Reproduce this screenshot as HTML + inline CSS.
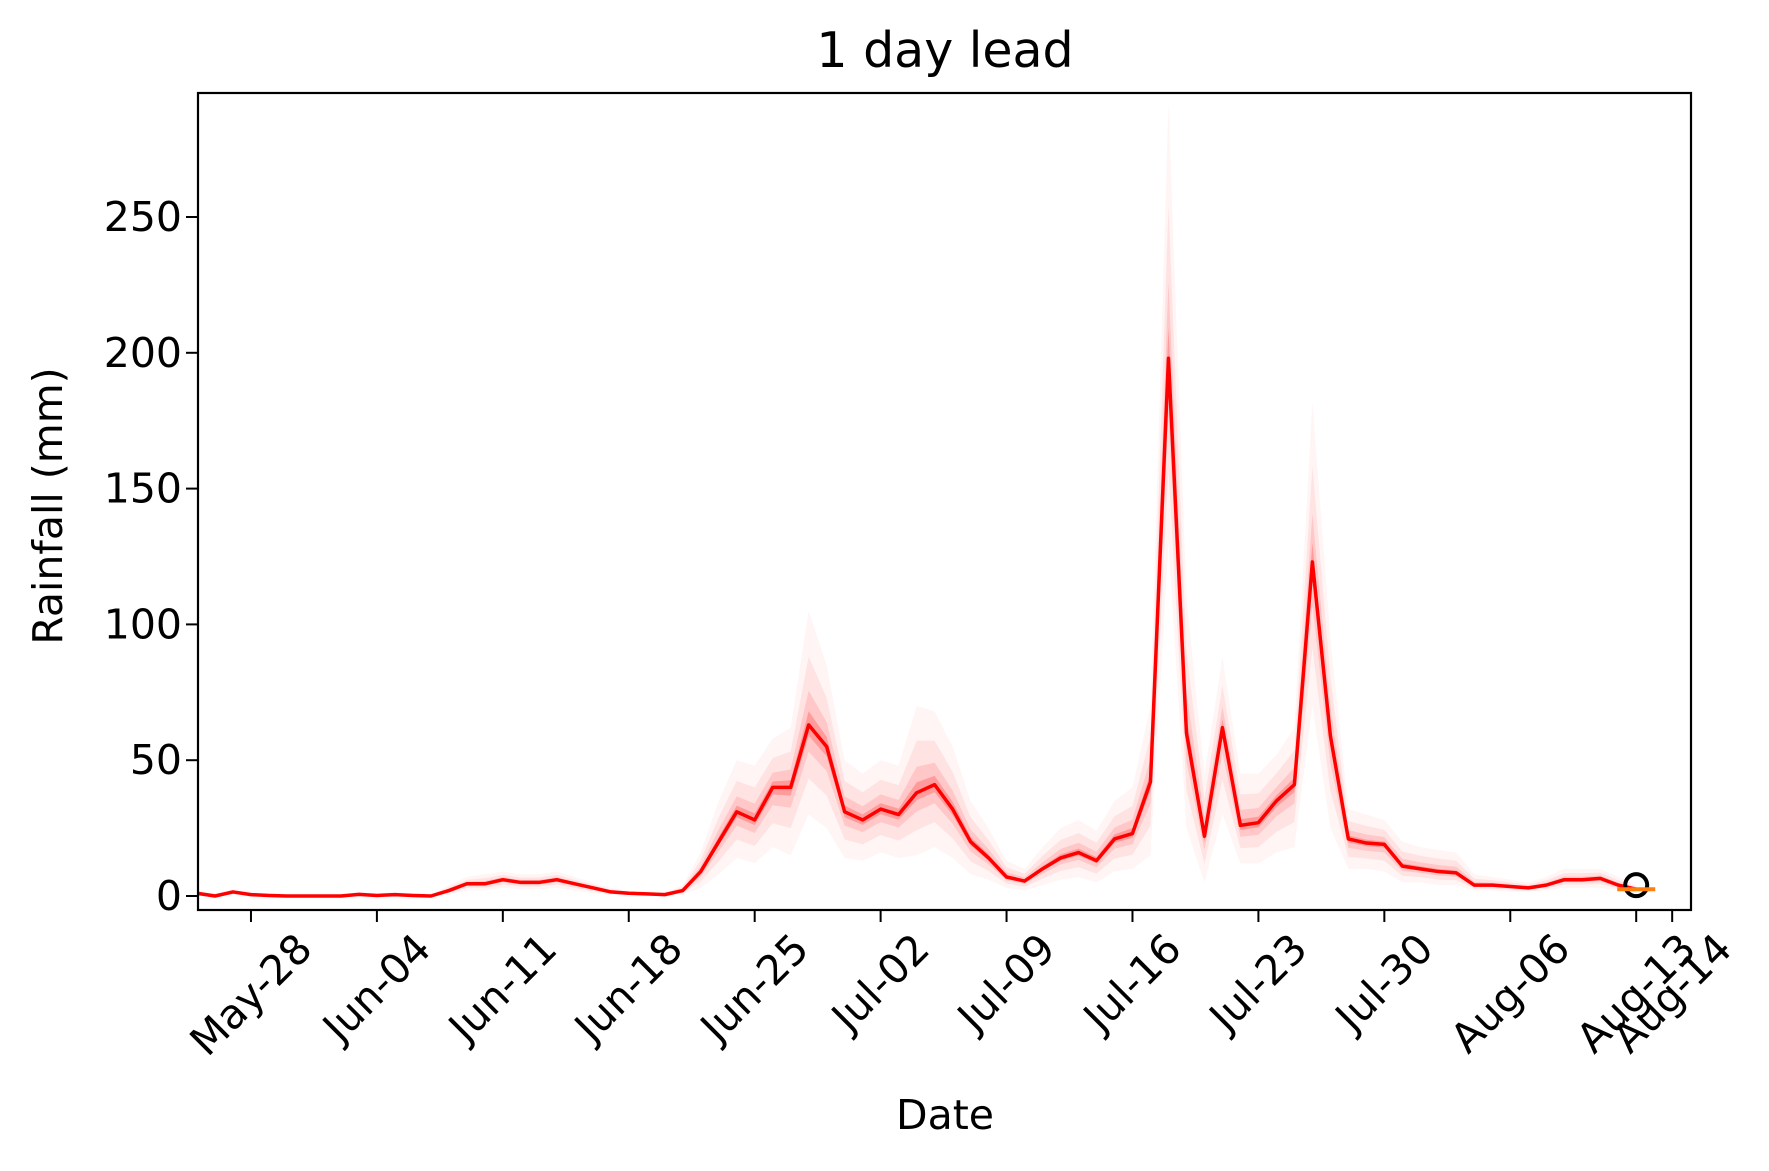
<!DOCTYPE html>
<html><head><meta charset="utf-8">
<style>
html,body{margin:0;padding:0;background:#fff;}
svg text{font-family:"DejaVu Sans","Liberation Sans",sans-serif;fill:#000;}
</style></head>
<body>
<svg id="chart" width="1769" height="1166" viewBox="0 0 1769 1166" xmlns="http://www.w3.org/2000/svg">
<rect width="1769" height="1166" fill="#fff"/>
<text x="945" y="67" font-size="49" text-anchor="middle">1 day lead</text>
<g id="plot"></g>
<text x="945" y="1129" font-size="41" text-anchor="middle">Date</text>
<text x="0" y="0" font-size="41" text-anchor="middle" transform="translate(62,506) rotate(-90)">Rainfall (mm)</text>
</svg>
<script>
// Daily values starting May-25
const meanValues = [1,0,1.5,0.5,0.2,0,0,
0,0,0.6,0.2,0.5,0.2,0,2,4.5,4.5,6,5,5,6,4.5,3,1.5,1,0.8,0.5,2,9,20,31,28,40,40,63,55,31,
28,32,30,38,41,32,20,14,7,5.5,10,14,16,13,21,23,42,198,60,22,62,26,27,35,41,123,59,21,19.5,19,11,
10,9,8.5,4,4,3.5,3,4,6,6,6.5,4,2.5];
const upperValues = [2,1,2.5,1.5,1,0.5,0.5,
0.5,0.5,1.5,1,1.5,1,0.5,4,7,8,9,8,8,9,7,5,3,2,1.5,1.5,4,16,35,50,48,58,62,105,85,50,
45,50,48,70,68,55,35,25,13,10,18,25,28,24,35,40,70,292,110,45,88,45,45,52,62,182,95,32,30,28,20,
18,17,16,8,7,6,5,7,10,10,10,7,4];
const lowerValues = [0,0,0.5,0,0,0,0,
0,0,0,0,0,0,0,0.5,2,2,3,2.5,2.5,3,2,1,0.5,0.3,0.2,0.1,0.5,3,8,14,12,18,15,30,25,14,
13,16,14,15,18,14,8,6,3,2,4,6,7,5,9,10,15,130,25,5,30,12,12,16,18,70,25,10,10,9,5,
5,4,4,2,2,1.5,1.5,2,3,3,3,2,1];
const xTickDays = [3,10,17,24,31,38,45,52,59,66,73,80,82];
const xTickLabels = ["May-28","Jun-04","Jun-11","Jun-18","Jun-25","Jul-02","Jul-09","Jul-16","Jul-23","Jul-30","Aug-06","Aug-13","Aug-14"];
const yTickValues = [0,50,100,150,200,250];
const obsDay = [80];
const obsValue = [4];
const medianValue = [2.5];

const NS="http://www.w3.org/2000/svg";
const L=198,R=1691,T=93,B=910;
const xs=d=>197+d*17.99;
const ys=v=>896-v*2.716;
const plot=document.getElementById('plot');
function mk(tag,attrs,parent){const e=document.createElementNS(NS,tag);for(const k in attrs)e.setAttribute(k,attrs[k]);(parent||plot).appendChild(e);return e;}

const clip=mk('clipPath',{id:'clipA'});
mk('rect',{x:L,y:T,width:R-L,height:B-T},clip);
const g=mk('g',{'clip-path':'url(#clipA)'});



function band(up,lo,op,name){
  let p=up.map((v,i)=>xs(i)+','+ys(v));
  for(let i=lo.length-1;i>=0;i--)p.push(xs(i)+','+ys(lo[i]));
  const e=mk('polygon',{points:p.join(' '),fill:'#ff0000','fill-opacity':op},g);
  
  
}
const mix=(a,t)=>a.map((v,i)=>meanValues[i]+(v-meanValues[i])*t);
band(upperValues,lowerValues,0.04,'ensemble-envelope');
band(mix(upperValues,0.6),mix(lowerValues,0.6),0.07,'ensemble-band-outer');
band(mix(upperValues,0.3),mix(lowerValues,0.3),0.12,'ensemble-band-inner');
band(mix(upperValues,0.12),mix(lowerValues,0.12),0.22,'ensemble-band-core');

const line=mk('polyline',{points:meanValues.map((v,i)=>xs(i)+','+ys(v)).join(' '),fill:'none',stroke:'#ff0000','stroke-width':3.5,'stroke-linejoin':'round'},g);



const circ=mk('circle',{cx:xs(obsDay[0]),cy:ys(obsValue[0]),r:11,fill:'none',stroke:'#000','stroke-width':4});


const med=mk('line',{x1:xs(obsDay[0])-19,x2:xs(obsDay[0])+19,y1:ys(medianValue[0]),y2:ys(medianValue[0]),stroke:'#ff7f0e','stroke-width':4});



const fr=mk('rect',{x:L,y:T,width:R-L,height:B-T,fill:'none',stroke:'#000','stroke-width':2.2});



yTickValues.forEach(v=>{
  const y=ys(v);
  const t=mk('line',{x1:L-12,x2:L,y1:y,y2:y,stroke:'#000','stroke-width':2});
  
  
  const tx=mk('text',{x:L-16,y:y+14,'font-size':41,'text-anchor':'end'});
  tx.textContent=v;
  
  
});
xTickDays.forEach((d,i)=>{
  const x=xs(d);
  const t=mk('line',{x1:x,x2:x,y1:B,y2:B+12,stroke:'#000','stroke-width':2});
  
  
  const tx=mk('text',{x:0,y:0,'font-size':41,'text-anchor':'middle','dominant-baseline':'central'});
  tx.textContent=xTickLabels[i];
  
  
  const w=tx.getComputedTextLength()||145;
  const h=(w+32)*0.7071;
  const cy=B+20+h/2;
  tx.setAttribute('transform','translate('+x+','+cy+') rotate(-45)');
});
</script>
</body></html>
